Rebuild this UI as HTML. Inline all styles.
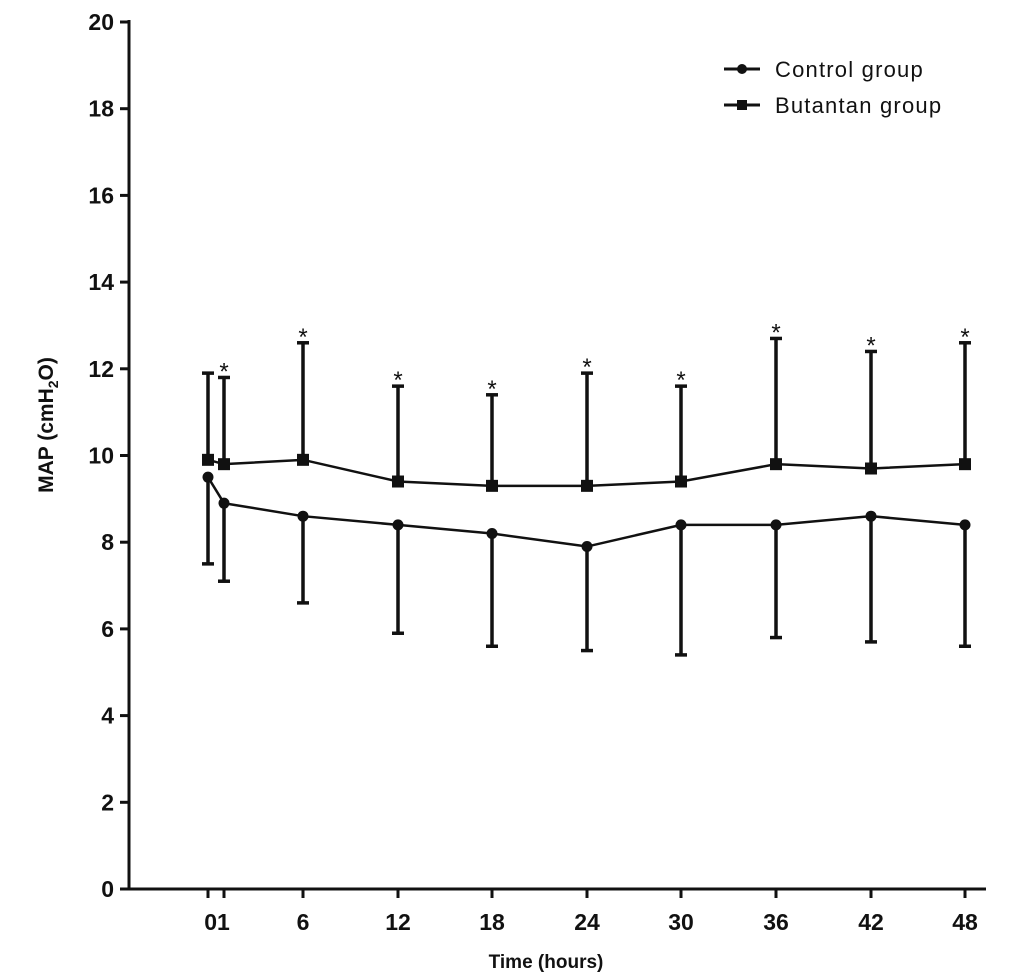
<!DOCTYPE html>
<html><head><meta charset="utf-8"><style>
html,body{margin:0;padding:0;background:#fff;}
svg{display:block;}
text{font-family:"Liberation Sans",Arial,sans-serif;fill:#111;}
</style></head><body>
<svg id="s" width="1024" height="977" viewBox="0 0 1024 977" xmlns="http://www.w3.org/2000/svg">
<g stroke="#111" stroke-width="3" fill="none">
<line x1="129" y1="20" x2="129" y2="890"/>
<line x1="127" y1="889" x2="986" y2="889"/>
</g>
<g id="g"></g>
<text x="775" y="77" font-size="22" letter-spacing="1.2">Control group</text>
<text x="775" y="113" font-size="22" letter-spacing="1.2">Butantan group</text>
<g stroke="#111" stroke-width="3"><line x1="724" y1="69" x2="760" y2="69"/><line x1="724" y1="105" x2="760" y2="105"/></g>
<circle cx="742" cy="69" r="5" fill="#111"/>
<rect x="737" y="100" width="10" height="10" fill="#111"/>
<text transform="translate(53,425) rotate(-90)" text-anchor="middle" font-size="21" font-weight="bold">MAP (cmH<tspan font-size="14" dy="5">2</tspan><tspan dy="-5">O)</tspan></text>
<text x="546" y="968" text-anchor="middle" font-size="19" font-weight="bold">Time (hours)</text>
</svg>
<script>
var g=document.getElementById('g'),h='';
function Y(v){return 889-43.35*v;}
for(var v=0;v<=20;v+=2){var y=Y(v);h+='<line x1="120" y1="'+y+'" x2="129" y2="'+y+'" stroke="#111" stroke-width="3"/>';
h+='<text x="114" y="'+(y+8)+'" text-anchor="end" font-size="23" font-weight="bold">'+v+'</text>';}
var X=[208,224,303,398,492,587,681,776,871,965],L=['','','6','12','18','24','30','36','42','48'];
var cm=[9.5,8.9,8.6,8.4,8.2,7.9,8.4,8.4,8.6,8.4],cl=[7.5,7.1,6.6,5.9,5.6,5.5,5.4,5.8,5.7,5.6];
var bm=[9.9,9.8,9.9,9.4,9.3,9.3,9.4,9.8,9.7,9.8],bu=[11.9,11.8,12.6,11.6,11.4,11.9,11.6,12.7,12.4,12.6];
for(var i=0;i<10;i++){var x=X[i];h+='<line x1="'+x+'" y1="889" x2="'+x+'" y2="898" stroke="#111" stroke-width="3"/>';
if(L[i])h+='<text x="'+x+'" y="930" text-anchor="middle" font-size="23" font-weight="bold">'+L[i]+'</text>';}
h+='<text x="217" y="930" text-anchor="middle" font-size="23" font-weight="bold">01</text>';
var p1='',p2='';
for(i=0;i<10;i++){x=X[i];
h+='<line x1="'+x+'" y1="'+Y(cm[i])+'" x2="'+x+'" y2="'+Y(cl[i])+'" stroke="#111" stroke-width="3.5"/>';
h+='<line x1="'+(x-6)+'" y1="'+Y(cl[i])+'" x2="'+(x+6)+'" y2="'+Y(cl[i])+'" stroke="#111" stroke-width="3.5"/>';
h+='<line x1="'+x+'" y1="'+Y(bm[i])+'" x2="'+x+'" y2="'+Y(bu[i])+'" stroke="#111" stroke-width="3.5"/>';
h+='<line x1="'+(x-6)+'" y1="'+Y(bu[i])+'" x2="'+(x+6)+'" y2="'+Y(bu[i])+'" stroke="#111" stroke-width="3.5"/>';
if(i>0)h+='<text x="'+x+'" y="'+(Y(bu[i])+2)+'" text-anchor="middle" font-size="24">*</text>';
p1+=(i?' L':'M')+x+' '+Y(cm[i]);p2+=(i?' L':'M')+x+' '+Y(bm[i]);}
h+='<path d="'+p1+'" stroke="#111" stroke-width="2.5" fill="none"/><path d="'+p2+'" stroke="#111" stroke-width="2.5" fill="none"/>';
for(i=0;i<10;i++){x=X[i];h+='<circle cx="'+x+'" cy="'+Y(cm[i])+'" r="5.5" fill="#111"/>';
h+='<rect x="'+(x-6)+'" y="'+(Y(bm[i])-6)+'" width="12" height="12" fill="#111"/>';}
g.innerHTML=h;
</script>
</body></html>
